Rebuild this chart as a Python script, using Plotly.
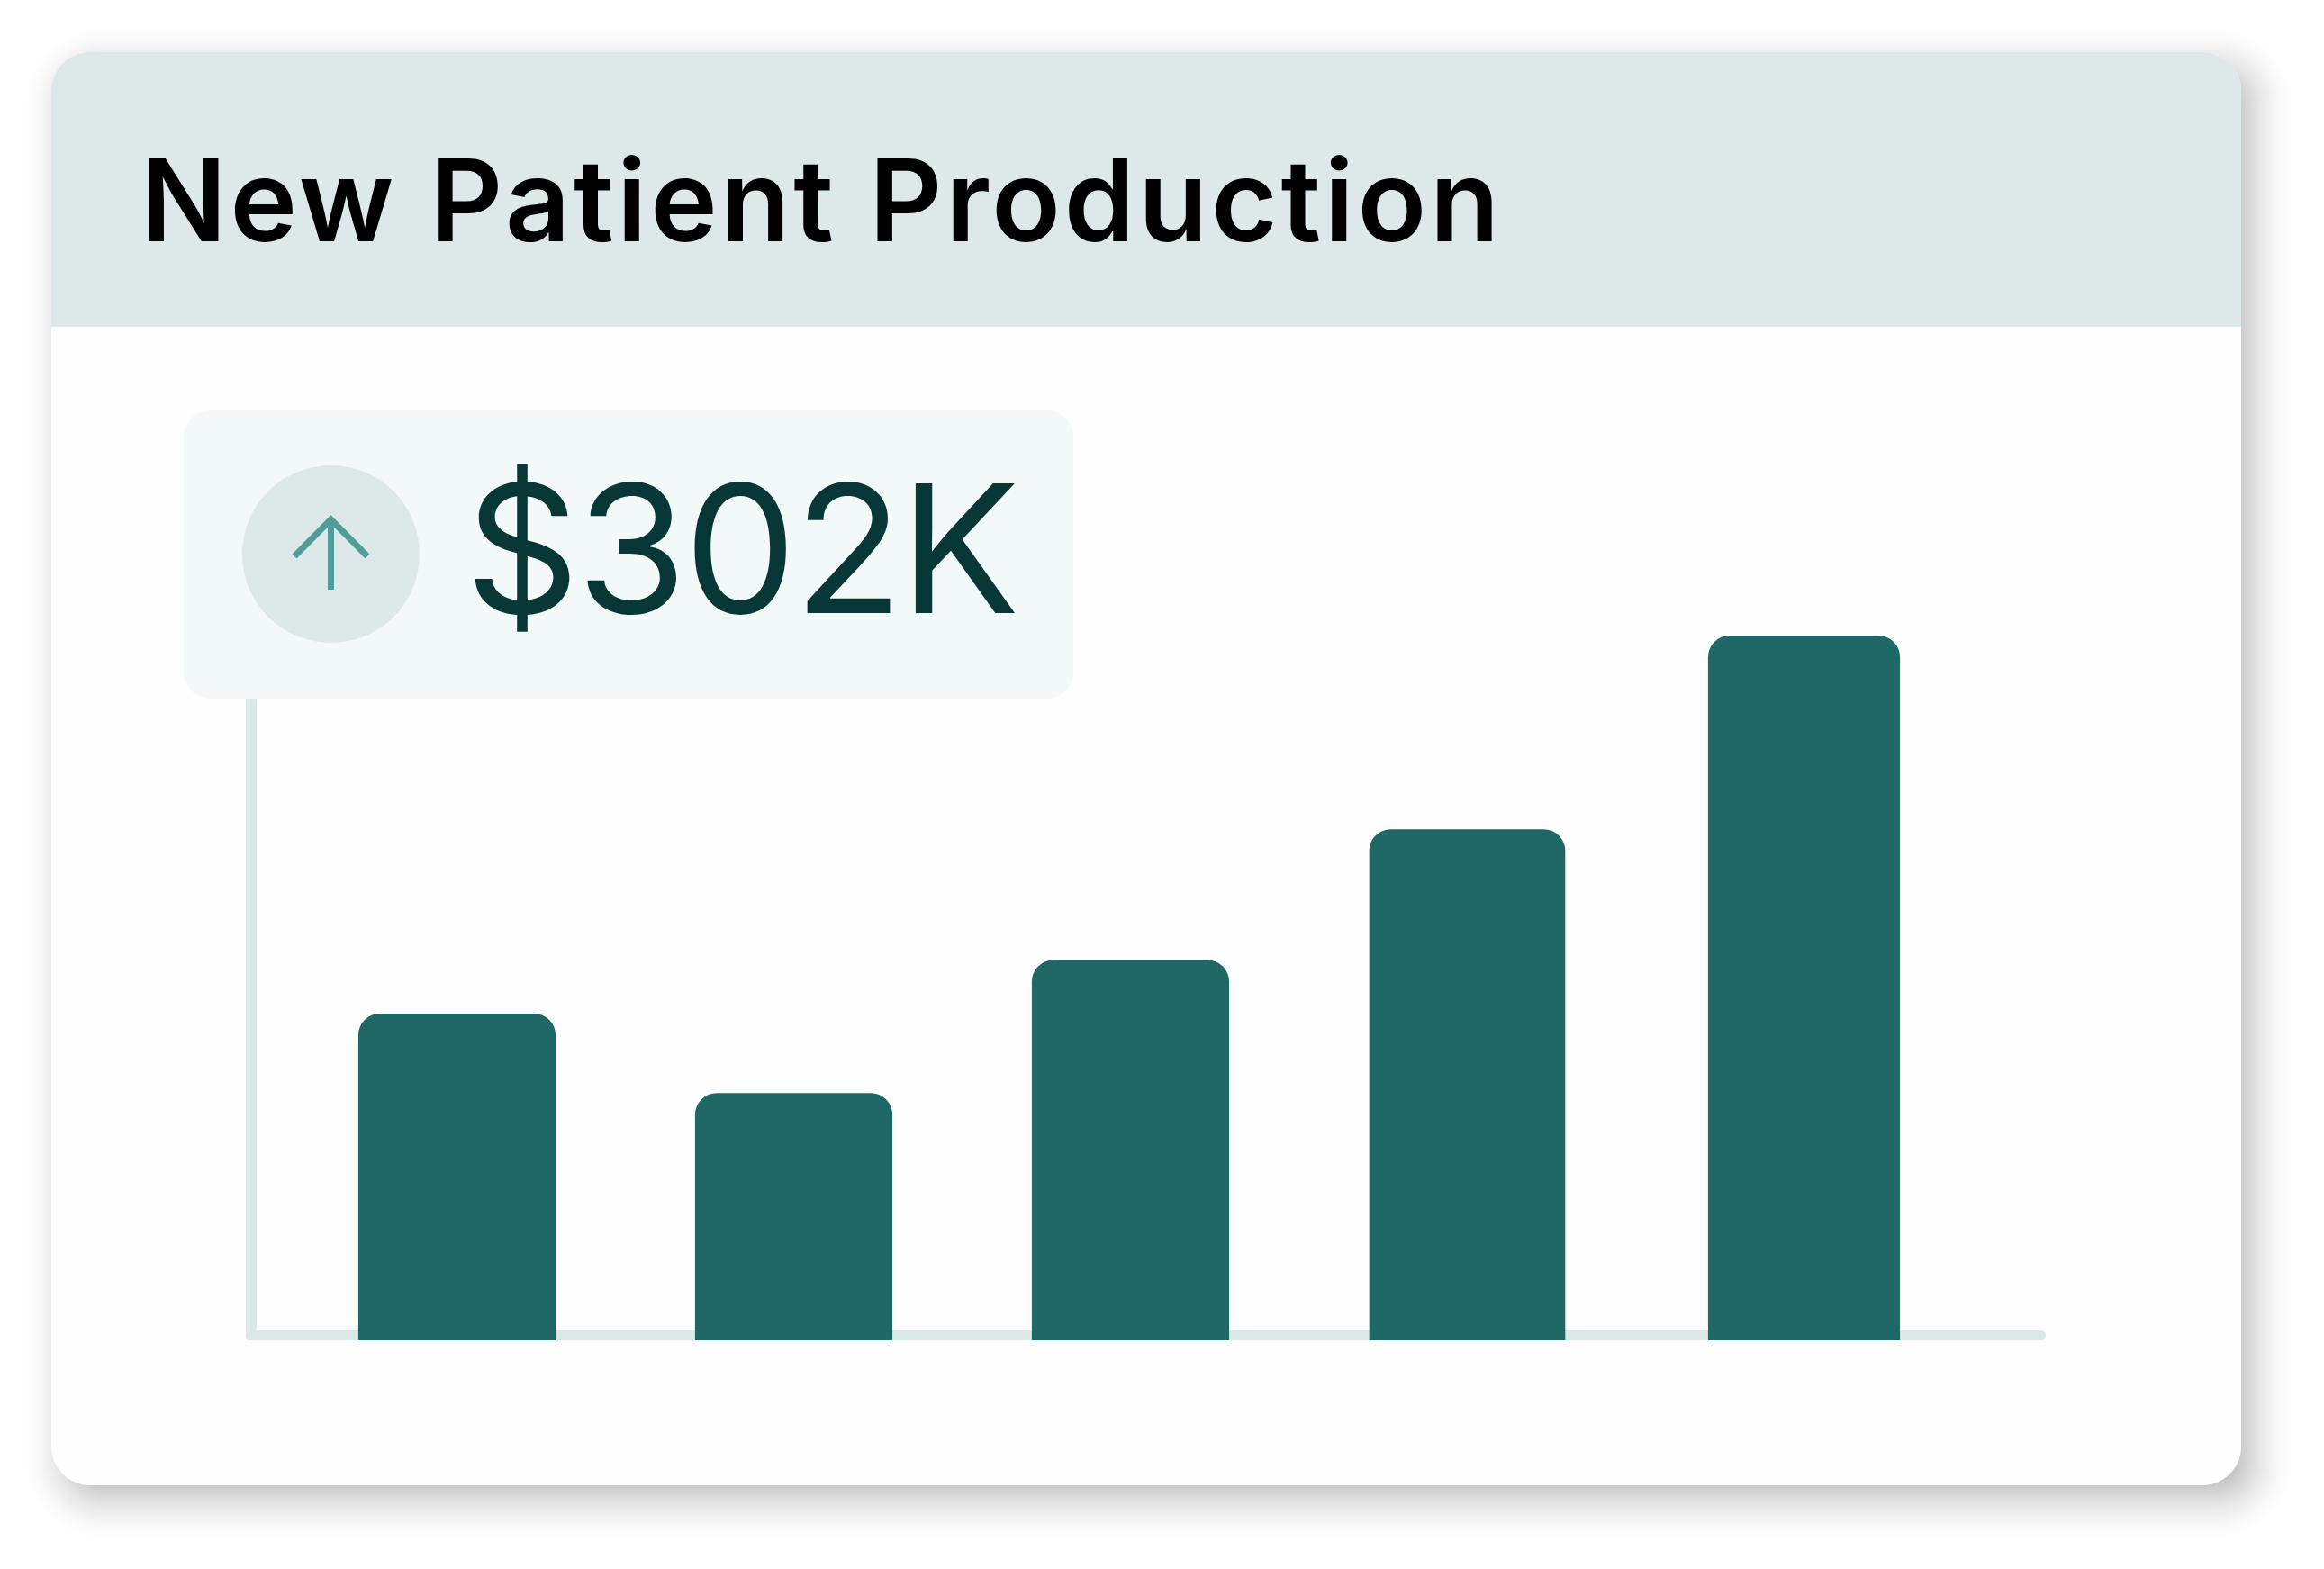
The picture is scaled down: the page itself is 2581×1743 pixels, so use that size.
import math
import plotly.graph_objects as go

W, H = 2581, 1743

# ---- data ----
periods = [1, 2, 3, 4, 5]
production_k = [140, 106, 163, 219, 302]
bar_widths = [0.586, 0.586, 0.586, 0.582, 0.57]
title_text = "New Patient Production"
value_text = "$302K"

# ---- colours ----
HEADER = "#DDE9E8"
BADGE = "#F3F8F8"
AXIS = "#DAE9E8"
BAR = "#206767"
ARROW = "#529C9B"
VALUE = "#073737"

# ---- pixel helpers for the decorative frame (paper coordinates) ----
def px(x): return x / W
def py(y): return 1 - y / H

def round_rect(x0, y0, x1, y1, r_top, r_bot=None):
    r_bot = r_top if r_bot is None else r_bot
    k = 0.5523
    def P(x, y): return f"{px(x):.6f},{py(y):.6f}"
    def arc(c1, c2, e): return f"C{P(*c1)} {P(*c2)} {P(*e)}"
    s = f"M{P(x0 + r_top, y0)} L{P(x1 - r_top, y0)} "
    if r_top:
        s += arc((x1 - r_top + k*r_top, y0), (x1, y0 + r_top - k*r_top), (x1, y0 + r_top)) + " "
    s += f"L{P(x1, y1 - r_bot)} "
    if r_bot:
        s += arc((x1, y1 - r_bot + k*r_bot), (x1 - r_bot + k*r_bot, y1), (x1 - r_bot, y1)) + " "
    s += f"L{P(x0 + r_bot, y1)} "
    if r_bot:
        s += arc((x0 + r_bot - k*r_bot, y1), (x0, y1 - r_bot + k*r_bot), (x0, y1 - r_bot)) + " "
    s += f"L{P(x0, y0 + r_top)} "
    if r_top:
        s += arc((x0, y0 + r_top - k*r_top), (x0 + r_top - k*r_top, y0), (x0 + r_top, y0)) + " "
    return s + "Z"

def fill_shape(path, color, opacity=1.0):
    return dict(type="path", path=path, xref="paper", yref="paper", fillcolor=color,
                opacity=opacity, line=dict(width=0), layer="below")

shapes = []

# soft drop shadow as stacked translucent rounded rectangles
CX0, CY0, CX1, CY1, CR = 57, 58, 2489, 1650, 43
OFF_X, OFF_Y, SPREAD, PEAK = 14, 16, 52, 0.25
N = 44
prev = 0.0
for i in range(N):
    d = SPREAD - 2 * SPREAD * i / (N - 1)
    t = (SPREAD - d) / (2 * SPREAD)
    target = PEAK * (0.5 - 0.5 * math.cos(math.pi * t))
    a = (target - prev) / (1 - prev)
    prev = target
    shapes.append(fill_shape(round_rect(CX0 + OFF_X - d, CY0 + OFF_Y - d, CX1 + OFF_X + d, CY1 + OFF_Y + d,
                                        max(CR + d, 4)), "#000000", a))

# card + header
shapes.append(fill_shape(round_rect(CX0, CY0, CX1, CY1, CR), "#FEFEFE"))
shapes.append(fill_shape(round_rect(CX0, CY0, CX1, 363, CR, 0), HEADER))

# axis lines
shapes.append(fill_shape(round_rect(273, 700, 285, 1489, 0, 4), AXIS))
shapes.append(fill_shape(round_rect(273, 1478, 2272, 1489, 5, 5), AXIS))

# badge + circle + arrow
shapes.append(fill_shape(round_rect(204, 456, 1192, 776, 30), BADGE))
shapes.append(dict(type="circle", xref="paper", yref="paper", x0=px(269), x1=px(466), y0=py(714), y1=py(517),
                   fillcolor=HEADER, line=dict(width=0), layer="below"))
arrow = (f"M{px(367.5):.6f},{py(655):.6f} L{px(367.5):.6f},{py(577):.6f} "
         f"M{px(327):.6f},{py(618):.6f} L{px(367.5):.6f},{py(577):.6f} L{px(408):.6f},{py(618):.6f}")
shapes.append(dict(type="path", path=arrow, xref="paper", yref="paper",
                   line=dict(color=ARROW, width=7), layer="below"))

fig = go.Figure(go.Bar(
    x=periods, y=production_k, width=bar_widths,
    marker=dict(color=BAR, line=dict(width=0), cornerradius=24),
    hoverinfo="skip", showlegend=False,
))

# scale: category spacing 374 px with first centre at 507.5 px; 0 at y = 1489 px; 0.3857 units per px
SX = 374.0
SY = 0.3857
fig.update_layout(
    width=W, height=H, margin=dict(l=0, r=0, t=0, b=0), autosize=False,
    paper_bgcolor="#FFFFFF", plot_bgcolor="rgba(0,0,0,0)",
    xaxis=dict(visible=False, range=[1 - 507.5 / SX, 1 + (W - 507.5) / SX]),
    yaxis=dict(visible=False, range=[-(H - 1489) * SY, 1489 * SY]),
    shapes=shapes,
    title=dict(text=title_text, x=px(156), xref="paper", xanchor="left",
               y=py(224), yref="paper", yanchor="middle",
               font=dict(family="Inter", size=126, color="#000000", weight=600)),
    annotations=[dict(text=value_text, xref="paper", yref="paper", x=px(507), y=py(609),
                      xanchor="left", yanchor="middle", showarrow=False,
                      font=dict(family="Inter", size=198, color=VALUE, weight=400))],
)

post = """
document.body.style.margin='0';
document.documentElement.style.overflow='hidden';
var t=document.querySelector('.gtitle'); if(t){t.style.letterSpacing='3.8px';}
var a=document.querySelector('.annotation-text'); if(a){a.style.letterSpacing='-3px';}
"""
fig.write_html("out.html", config=dict(displayModeBar=False), post_script=post)
